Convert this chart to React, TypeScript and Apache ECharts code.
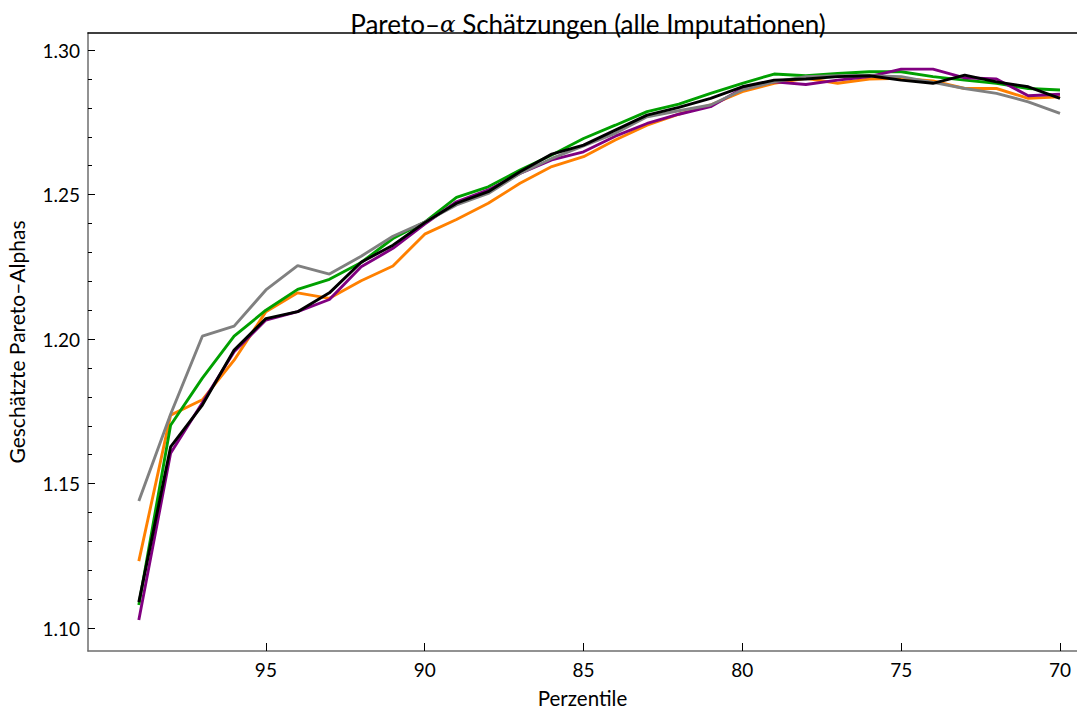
import React, { useEffect, useRef } from "react";
import * as echarts from "echarts";

const percentiles = [99, 98, 97, 96, 95, 94, 93, 92, 91, 90, 89, 88, 87, 86, 85, 84, 83, 82, 81, 80, 79, 78, 77, 76, 75, 74, 73, 72, 71, 70];

const orangeSeries = [1.1232, 1.1737, 1.179, 1.1927, 1.2095, 1.216, 1.2141, 1.2202, 1.2253, 1.2363, 1.2414, 1.247, 1.2539, 1.2597, 1.2631, 1.2689, 1.274, 1.2778, 1.281, 1.2856, 1.2885, 1.2902, 1.2885, 1.29, 1.2902, 1.2893, 1.2867, 1.2867, 1.2833, 1.2838];
const greenSeries = [1.108, 1.1702, 1.1865, 1.201, 1.21, 1.2172, 1.2207, 1.2265, 1.2348, 1.2405, 1.249, 1.2527, 1.2585, 1.2637, 1.2694, 1.274, 1.2787, 1.2813, 1.285, 1.2885, 1.2917, 1.2911, 1.2919, 1.2925, 1.2925, 1.2908, 1.2896, 1.2885, 1.2867, 1.2862];
const purpleSeries = [1.1028, 1.1605, 1.178, 1.1956, 1.2066, 1.2095, 1.2137, 1.225, 1.2314, 1.2398, 1.2475, 1.2516, 1.2573, 1.262, 1.2648, 1.2702, 1.2746, 1.2778, 1.2804, 1.2867, 1.289, 1.2881, 1.2896, 1.2908, 1.2934, 1.2934, 1.2904, 1.29, 1.2842, 1.2847];
const graySeries = [1.144, 1.174, 1.201, 1.2045, 1.217, 1.2254, 1.2225, 1.2287, 1.2356, 1.2405, 1.2464, 1.2504, 1.2573, 1.2625, 1.2668, 1.2712, 1.2769, 1.279, 1.281, 1.2862, 1.289, 1.2908, 1.2911, 1.2911, 1.2908, 1.2888, 1.2867, 1.285, 1.2821, 1.2781];
const blackSeries = [1.109, 1.1627, 1.1772, 1.1962, 1.2071, 1.2095, 1.216, 1.2266, 1.2325, 1.2403, 1.247, 1.251, 1.2579, 1.264, 1.2671, 1.2723, 1.2775, 1.2802, 1.2833, 1.2873, 1.2896, 1.29, 1.2908, 1.2911, 1.2896, 1.2885, 1.2913, 1.289, 1.2873, 1.2833];

const xTicks = [95, 90, 85, 80, 75, 70];
const yMajorTicks = [1.1, 1.15, 1.2, 1.25, 1.3];
const yMinorTicks = [1.1, 1.11, 1.12, 1.13, 1.14, 1.15, 1.16, 1.17, 1.18, 1.19, 1.2, 1.21, 1.22, 1.23, 1.24, 1.25, 1.26, 1.27, 1.28, 1.29, 1.3];

const FONT = "Lato, 'Open Sans', sans-serif";
const X_MIN = 69.465;
const X_MAX = 100.6;
const Y_MIN = 1.0921;
const Y_MAX = 1.3059;

export default function App() {
  const ref = useRef<HTMLDivElement>(null);
  useEffect(() => {
    if (!ref.current) return;
    const chart = echarts.init(ref.current, undefined, { renderer: "svg" });
    const mk = (name: string, data: number[], color: string) => ({
      name,
      type: "line",
      data: percentiles.map((p, i) => [p, data[i]]),
      showSymbol: false,
      symbol: "none",
      lineStyle: { color, width: 2.9 },
      xAxisIndex: 0,
      yAxisIndex: 0,
      z: 3,
    });
    chart.setOption({
      animation: false,
      backgroundColor: "#fff",
      title: {
        text: "{a|Pareto–}{i|α}{a| Schätzungen (alle Imputationen)}",
        left: 583,
        textAlign: "center",
        top: 6,
        textStyle: {
          fontWeight: "normal",
          rich: {
            a: { fontFamily: FONT, fontSize: 26, fontWeight: "normal", color: "#000" },
            i: { fontFamily: "'DejaVu Serif', serif", fontStyle: "italic", fontWeight: "normal", fontSize: 23, color: "#000" },
          },
        },
      },
      grid: { left: 88, right: 0, top: 33, height: 618, containLabel: false, outerBoundsMode: "none" },
      xAxis: [
        {
          type: "value",
          inverse: true,
          min: X_MIN,
          max: X_MAX,
          name: "Perzentile",
          nameLocation: "middle",
          nameGap: 36,
          nameTextStyle: { fontFamily: FONT, fontSize: 20.5, color: "#000" },
          axisLine: { show: true, onZero: false, lineStyle: { color: "#6e6e6e", width: 1.5 } },
          axisTick: { show: true, inside: true, length: 8, customValues: xTicks, lineStyle: { color: "#000", width: 1 } },
          axisLabel: { customValues: xTicks, fontFamily: FONT, fontSize: 19, color: "#000", margin: 9 },
          splitLine: { show: false },
        },
        {
          type: "value",
          position: "top",
          inverse: true,
          min: X_MIN,
          max: X_MAX,
          axisLine: { show: true, onZero: false, lineStyle: { color: "#000", width: 1.5 } },
          axisTick: { show: false },
          axisLabel: { show: false },
          splitLine: { show: false },
        },
      ],
      yAxis: [
        {
          type: "value",
          min: Y_MIN,
          max: Y_MAX,
          name: "Geschätzte Pareto–Alphas",
          nameLocation: "middle",
          nameGap: 61,
          nameRotate: 90,
          nameTextStyle: { fontFamily: FONT, fontSize: 21, color: "#000" },
          axisLine: { show: true, onZero: false, lineStyle: { color: "#6e6e6e", width: 1.5 } },
          axisTick: { show: true, inside: true, length: 7, customValues: yMajorTicks, lineStyle: { color: "#000", width: 1 } },
          axisLabel: {
            customValues: yMajorTicks,
            fontFamily: FONT,
            fontSize: 19,
            color: "#000",
            margin: 8,
            formatter: (v: number) => v.toFixed(2),
          },
          splitLine: { show: false },
        },
        {
          type: "value",
          min: Y_MIN,
          max: Y_MAX,
          position: "left",
          axisLine: { show: false },
          axisTick: { show: true, inside: true, length: 4, customValues: yMinorTicks, lineStyle: { color: "#000", width: 1 } },
          axisLabel: { show: false },
          splitLine: { show: false },
        },
      ],
      series: [
        mk("orange", orangeSeries, "#ff8000"),
        mk("green", greenSeries, "#00a000"),
        mk("purple", purpleSeries, "#800080"),
        mk("gray", graySeries, "#808080"),
        mk("black", blackSeries, "#000000"),
      ],
    });
    return () => chart.dispose();
  }, []);
  return (
    <div
      ref={ref}
      style={{ position: "fixed", left: 0, top: 0, width: 1077, height: 709, background: "#fff" }}
    />
  );
}
